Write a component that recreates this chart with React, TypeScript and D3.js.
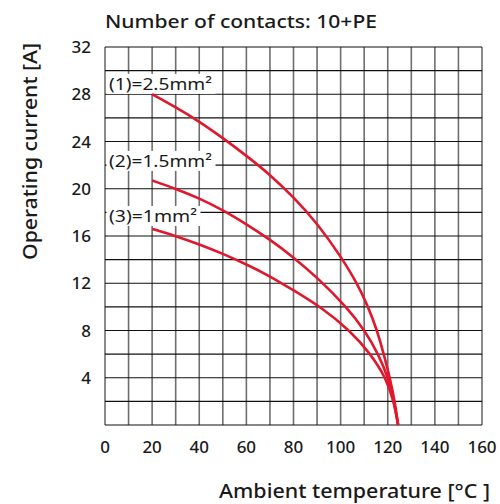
import React, { useEffect, useRef } from 'react';
import * as d3 from 'd3';

const tempTicks = [0, 20, 40, 60, 80, 100, 120, 140, 160];
const currentTicks = [4, 8, 12, 16, 20, 24, 28, 32];

const temp1 = [20, 30, 40, 50, 60, 70, 80, 90, 100, 107, 111.7, 115.5, 118.3, 120.9, 123, 124.4];
const cur1 = [28, 26.9, 25.7, 24.3, 22.8, 21.2, 19.3, 17.1, 14.3, 12, 10, 8, 6, 4, 2, 0];

const temp2 = [20, 30, 40, 50, 60, 70, 80, 90, 102.5, 110.3, 116, 120.2, 122.7, 124.4];
const cur2 = [20.7, 20, 19.2, 18.2, 17, 15.7, 14.2, 12.5, 10, 8, 6, 4, 2, 0];

const temp3 = [20, 30, 40, 50, 60, 70, 80, 91.5, 104, 112.8, 119.2, 122.6, 124.4];
const cur3 = [16.6, 16, 15.3, 14.5, 13.6, 12.6, 11.4, 10, 8, 6, 4, 2, 0];

const seriesLabels = ['(1)=2.5mm²', '(2)=1.5mm²', '(3)=1mm²'];
const labelCurrents = [28.37, 21.85, 17.19];
const labelWidths = [103, 103, 88];

const App: React.FC = () => {
  const ref = useRef<SVGSVGElement>(null);

  useEffect(() => {
    if (!ref.current) return;
    const svg = d3.select(ref.current);
    svg.selectAll('*').remove();

    const left = 105, right = 482, top = 47, bottom = 425;
    const font = "'Noto Sans', 'Open Sans', sans-serif";
    const ink = '#1a1a1a';

    const x = d3.scaleLinear().domain([0, 160]).range([left, right]);
    const y = d3.scaleLinear().domain([0, 32]).range([bottom, top]);

    const grid = svg.append('g');
    grid.selectAll('line.v')
      .data(d3.range(0, 161, 10))
      .join('line')
      .attr('x1', d => x(d)).attr('x2', d => x(d))
      .attr('y1', top).attr('y2', bottom)
      .attr('stroke', '#6e6e6e')
      .attr('stroke-width', 1.6);
    grid.selectAll('line.h')
      .data(d3.range(0, 33, 2))
      .join('line')
      .attr('x1', left).attr('x2', right)
      .attr('y1', d => y(d)).attr('y2', d => y(d))
      .attr('stroke', '#111')
      .attr('stroke-width', 1.2);

    svg.append('g').selectAll('text')
      .data(tempTicks)
      .join('text')
      .attr('x', d => x(d))
      .attr('y', 453)
      .attr('text-anchor', 'middle')
      .attr('font-family', font)
      .attr('font-size', 17)
      .attr('font-weight', 500)
      .attr('fill', ink)
      .text(d => d);

    svg.append('g').selectAll('text')
      .data(currentTicks)
      .join('text')
      .attr('x', 91)
      .attr('y', d => y(d) + 6)
      .attr('text-anchor', 'end')
      .attr('font-family', font)
      .attr('font-size', 17)
      .attr('font-weight', 500)
      .attr('fill', ink)
      .text(d => d);

    // series labels on white patches
    seriesLabels.forEach((lab, i) => {
      const g = svg.append('g');
      const rect = g.append('rect').attr('fill', '#fff');
      const t = g.append('text')
        .attr('x', x(0) + 4)
        .attr('y', y(labelCurrents[i]))
        .attr('font-family', font)
        .attr('font-size', 16)
        .attr('textLength', labelWidths[i])
        .attr('lengthAdjust', 'spacingAndGlyphs')
        .attr('fill', ink)
        .text(lab);
      const bb = (t.node() as SVGTextElement).getBBox();
      rect.attr('x', x(0) + 1.5).attr('y', bb.y + 1)
        .attr('width', labelWidths[i] + 6)
        .attr('height', bb.height - 2);
    });

    const line = d3.line<[number, number]>()
      .x(d => x(d[0]))
      .y(d => y(d[1]))
      .curve(d3.curveBasis);

    const series: [number[], number[]][] = [[temp1, cur1], [temp2, cur2], [temp3, cur3]];
    series.forEach(([ts, cs]) => {
      svg.append('path')
        .datum(ts.map((t, i) => [t, cs[i]] as [number, number]))
        .attr('fill', 'none')
        .attr('stroke', '#e0182d')
        .attr('stroke-width', 2.6)
        .attr('d', line);
    });

    svg.append('text')
      .attr('x', 105).attr('y', 28)
      .attr('font-family', font)
      .attr('font-size', 18.5)
      .attr('font-weight', 500)
      .attr('textLength', 272)
      .attr('lengthAdjust', 'spacingAndGlyphs')
      .attr('fill', ink)
      .text('Number of contacts: 10+PE');

    svg.append('text')
      .attr('transform', 'translate(37,151.5) rotate(-90)')
      .attr('text-anchor', 'middle')
      .attr('font-family', font)
      .attr('font-size', 19)
      .attr('font-weight', 500)
      .attr('textLength', 217)
      .attr('lengthAdjust', 'spacingAndGlyphs')
      .attr('fill', ink)
      .text('Operating current [A]');

    svg.append('text')
      .attr('x', 219).attr('y', 498)
      .attr('font-family', font)
      .attr('font-size', 19)
      .attr('font-weight', 500)
      .attr('textLength', 271)
      .attr('lengthAdjust', 'spacingAndGlyphs')
      .attr('fill', ink)
      .text('Ambient temperature [°C ]');
  }, []);

  return (
    <svg
      ref={ref}
      width={500}
      height={504}
      style={{ position: 'absolute', left: 0, top: 0, background: '#fff' }}
    />
  );
};

export default App;
